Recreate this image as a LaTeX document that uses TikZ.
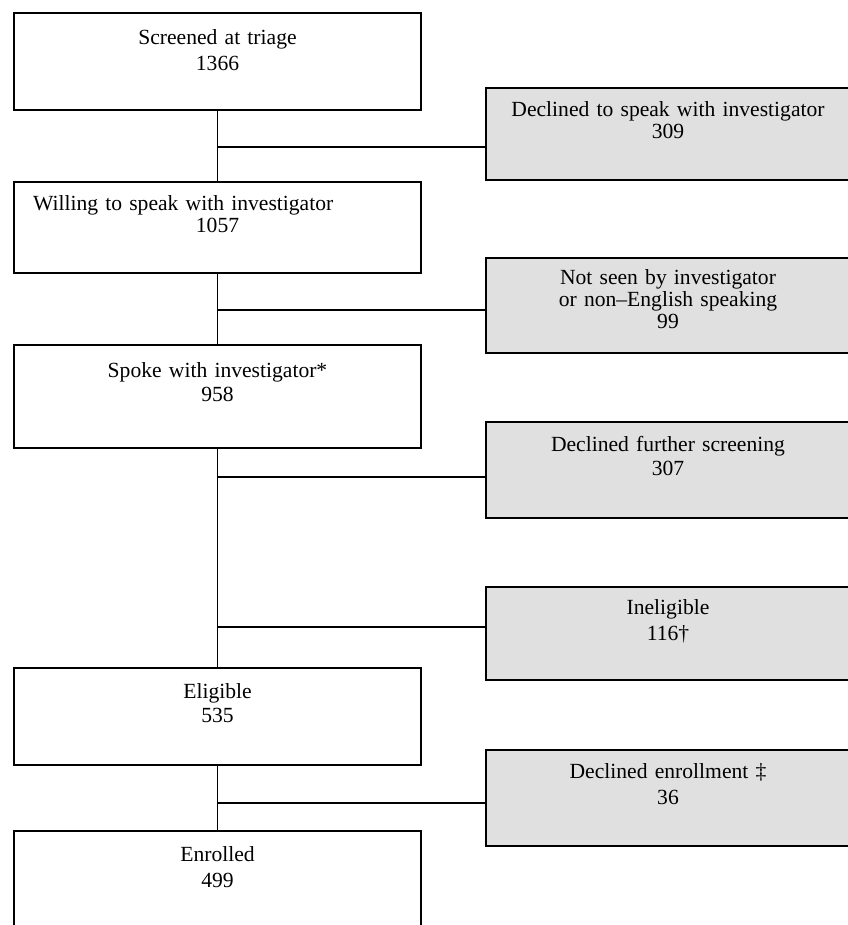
\documentclass[tikz,border=0pt]{standalone}
\usepackage{fontspec}
\setmainfont{Liberation Serif}
\begin{document}
\begin{tikzpicture}[x=1pt,y=-1pt,line width=1.3pt,
    stage/.style={draw,inner xsep=10pt,text width=387pt,align=center,
      font=\fontsize{21.6}{26}\selectfont},
    excl/.style={draw,fill=black!12,inner xsep=10pt,text width=344pt,align=center,
      font=\fontsize{21.6}{26}\selectfont}]
\useasboundingbox (0,0) rectangle (847,925);
% stages down the left
\node[stage,minimum height=97pt] (screened) at (217.5,61.5) {Screened at triage\\1366\\[-10pt]\strut};
\node[stage,minimum height=91pt] (willing) at (217.5,227.5) {\makebox[\linewidth][l]{\hspace*{9pt}Willing to speak with investigator}\\[-4pt]1057\\[-6pt]\strut};
\node[stage,minimum height=103pt] (spoke) at (217.5,396.5) {Spoke with investigator*\\[-2pt]958\\[-4pt]\strut};
\node[stage,minimum height=97pt] (eligible) at (217.5,716.5) {Eligible\\[-2pt]535\\[-6pt]\strut};
\node[stage,minimum height=97pt] (enrolled) at (217.5,879.5) {Enrolled\\499\\[-8pt]\strut};
% exclusions on the right
\node[excl,minimum height=92pt] (declined) at (668,134) {Declined to speak with investigator\\[-4pt]309\\[-6pt]\strut};
\node[excl,minimum height=95pt] (notseen) at (668,305.5) {Not seen by investigator\\[-4pt]or non--English speaking\\[-4pt]99\\[-20pt]\strut};
\node[excl,minimum height=96pt] (further) at (668,470) {Declined further screening\\[-2pt]307\\[-6pt]\strut};
\node[excl,minimum height=93pt] (inelig) at (668,633.5) {Ineligible\\116†\\[-6pt]\strut};
\node[excl,minimum height=96pt] (declenrol) at (668,798) {Declined enrollment ‡\\36\\[-6pt]\strut};
% trunk
\draw (screened.south) -- (willing.north);
\draw (willing.south) -- (spoke.north);
\draw (spoke.south) -- (eligible.north);
\draw (eligible.south) -- (enrolled.north);
% branches
\coordinate (j1) at (217.5,147);
\coordinate (j2) at (217.5,310);
\coordinate (j3) at (217.5,477);
\coordinate (j4) at (217.5,627);
\coordinate (j5) at (217.5,803);
\draw (j1) -- (j1 -| declined.west);
\draw (j2) -- (j2 -| notseen.west);
\draw (j3) -- (j3 -| further.west);
\draw (j4) -- (j4 -| inelig.west);
\draw (j5) -- (j5 -| declenrol.west);
\end{tikzpicture}
\end{document}
